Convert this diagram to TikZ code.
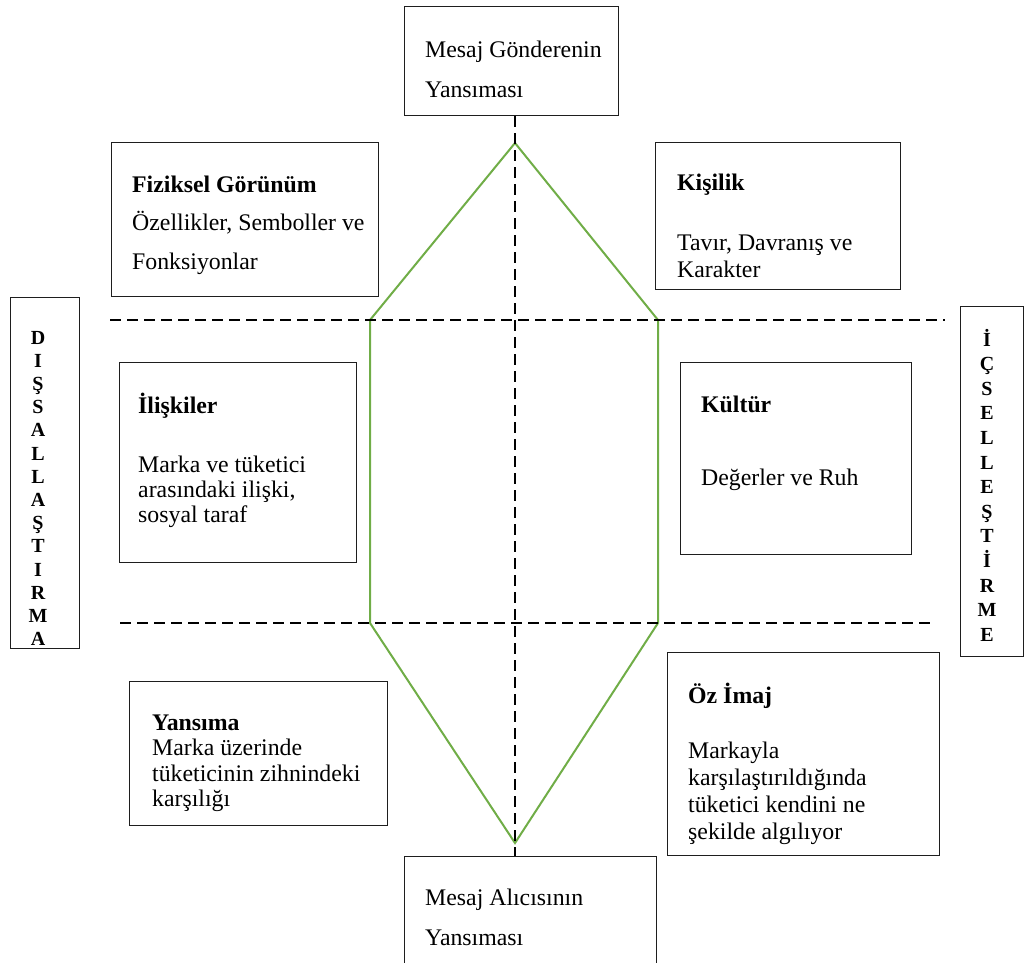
\documentclass[tikz,border=0pt]{standalone}
\usepackage{fontspec}
\setmainfont{Liberation Serif}
\newcommand{\mytab}[2][l]{\begin{tabular}[t]{@{}#1@{}}#2\end{tabular}}
\definecolor{hexgreen}{RGB}{112,173,71}
\definecolor{boxline}{RGB}{30,30,30}
\begin{document}
\begin{tikzpicture}[x=1pt,y=-1pt,
  boxst/.style={draw=boxline, line width=1.3pt, inner sep=0pt, anchor=north west, fill=white},
  txt/.style={font=\fontsize{23.8}{#1}\selectfont, anchor=base west, inner sep=0pt, text=black},
  letters/.style={font=\fontsize{20}{#1}\selectfont\bfseries, anchor=base, inner sep=0pt, text=black},
  dashline/.style={line width=2.4pt, dash pattern=on 11pt off 6pt, black},
  hexline/.style={line width=2pt, hexgreen, line join=miter}]
\useasboundingbox (0,0) rectangle (1024,962);
\clip (0,0) rectangle (1024,962);

% boxes
\node[boxst, minimum width=214pt, minimum height=109pt] (top) at (404,6) {};
\node[boxst, minimum width=267pt, minimum height=154pt] (fiz) at (111,142) {};
\node[boxst, minimum width=245pt, minimum height=147pt] (kis) at (655,142) {};
\node[boxst, minimum width=237pt, minimum height=200pt] (ilis) at (119,362) {};
\node[boxst, minimum width=231pt, minimum height=192pt] (kul) at (680,362) {};
\node[boxst, minimum width=258pt, minimum height=144pt] (yan) at (129,681) {};
\node[boxst, minimum width=272pt, minimum height=203pt] (oz) at (667,652) {};
\node[boxst, minimum width=252pt, minimum height=150pt] (bot) at (404,856) {};
\node[boxst, minimum width=69pt, minimum height=351pt] (dis) at (10,297) {};
\node[boxst, minimum width=63pt, minimum height=350pt] (ic) at (960,306) {};

% hexagon
\coordinate (hT) at (515,143);
\coordinate (hUL) at (370,320);
\coordinate (hUR) at (658,320);
\coordinate (hLL) at (370,623);
\coordinate (hLR) at (658,623);
\coordinate (hB) at (515,843);
\draw[hexline] (hT) -- (hUR) -- (hLR) -- (hB) -- (hLL) -- (hUL) -- cycle;

% dashed axes
\coordinate (h1l) at (110,320);
\coordinate (h1r) at (945,320);
\coordinate (h2l) at (120,623);
\coordinate (h2r) at (935,623);
\draw[dashline] (h1l) -- (h1r);
\draw[dashline] (h2l) -- (h2r);
\draw[dashline] (top.south -| hT) -- (bot.north -| hT);

% texts
\node[txt=40] (ttop) at (425,57) {\mytab{Mesaj Gönderenin\\Yansıması}};
\node[txt=38.5] (tfiz) at (132,192) {\mytab{\textbf{Fiziksel Görünüm}\\Özellikler, Semboller ve\\Fonksiyonlar}};
\node[txt=27] (tkis) at (677,190) {\mytab{\textbf{Kişilik}\\[33pt]Tavır, Davranış ve\\Karakter}};
\node[txt=25] (tilis) at (138,413) {\mytab{\textbf{İlişkiler}\\[34pt]Marka ve tüketici\\arasındaki ilişki,\\sosyal taraf}};
\node[txt=26] (tkul) at (701,412) {\mytab{\textbf{Kültür}\\[47pt]Değerler ve Ruh}};
\node[txt=25.5] (tyan) at (152,730) {\mytab{\textbf{Yansıma}\\Marka üzerinde\\tüketicinin zihnindeki\\karşılığı}};
\node[txt=27] (toz) at (688,703) {\mytab{\textbf{Öz İmaj}\\[28pt]Markayla\\karşılaştırıldığında\\tüketici kendini ne\\şekilde algılıyor}};
\node[txt=40] (tbot) at (425,905) {\mytab{Mesaj Alıcısının\\Yansıması}};

\node[letters=23.2] (ldis) at (38,344) {\mytab[c]{D\\I\\Ş\\S\\A\\L\\L\\A\\Ş\\T\\I\\R\\M\\A}};
\node[letters=24.6] (lic) at (987,346) {\mytab[c]{İ\\Ç\\S\\E\\L\\L\\E\\Ş\\T\\İ\\R\\M\\E}};
\end{tikzpicture}
\end{document}
